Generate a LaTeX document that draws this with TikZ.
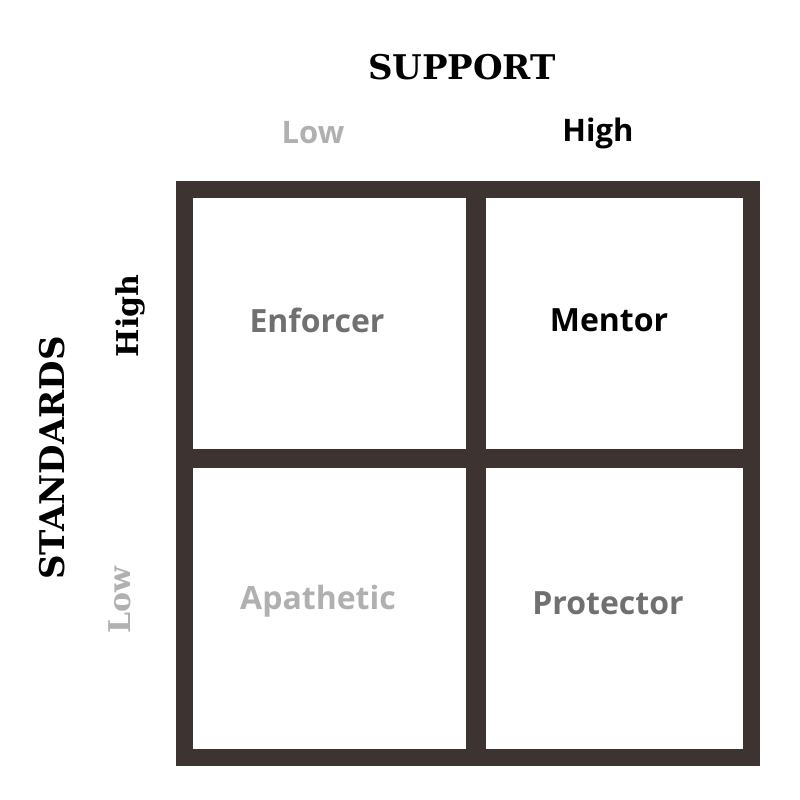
\documentclass[tikz,border=0pt]{standalone}
\usepackage{fontspec}
\setmainfont{Open Sans}
\newfontfamily\slabfont{DejaVu Serif}
\definecolor{frame}{HTML}{3D3330}
\definecolor{midgray}{HTML}{707070}
\definecolor{lightgray}{HTML}{B0B0B0}
\tikzset{
  cell/.style={font=\fontsize{32}{36}\selectfont\bfseries},
  axis/.style={font=\slabfont\fontsize{34}{38}\selectfont\bfseries},
  level/.style={font=\fontsize{31}{36}\selectfont\bfseries},
  sidelevel/.style={font=\slabfont\fontsize{30}{34}\selectfont\bfseries, rotate=90}
}
\begin{document}
\begin{tikzpicture}[x=1pt,y=-1pt]
    \useasboundingbox (0,0) rectangle (800,800);
    % frame and cells
    \fill[frame] (176,181) rectangle (760,766);
    \fill[white] (193,198) rectangle (466,449);
    \fill[white] (486,198) rectangle (743,449);
    \fill[white] (193,468) rectangle (466,749);
    \fill[white] (486,468) rectangle (743,749);

    \node[axis] (support) at (462,67) {SUPPORT};
    \node[level, text=lightgray] (suplow) at (313,133) {Low};
    \node[level] (suphigh) at (598,133) {High};

    \node[axis, rotate=90] (standards) at (52,458) {STANDARDS};
    \node[sidelevel] (stdhigh) at (130,316) {High};
    \node[sidelevel, text=lightgray] (stdlow) at (120,600) {Low};

    \node[cell, text=midgray] (enforcer) at (317,320) {Enforcer};
    \node[cell] (mentor) at (609,320) {Mentor};
    \node[cell, text=lightgray] (apathetic) at (318,601) {Apathetic};
    \node[cell, text=midgray] (protector) at (608,603) {Protector};
\end{tikzpicture}
\end{document}
